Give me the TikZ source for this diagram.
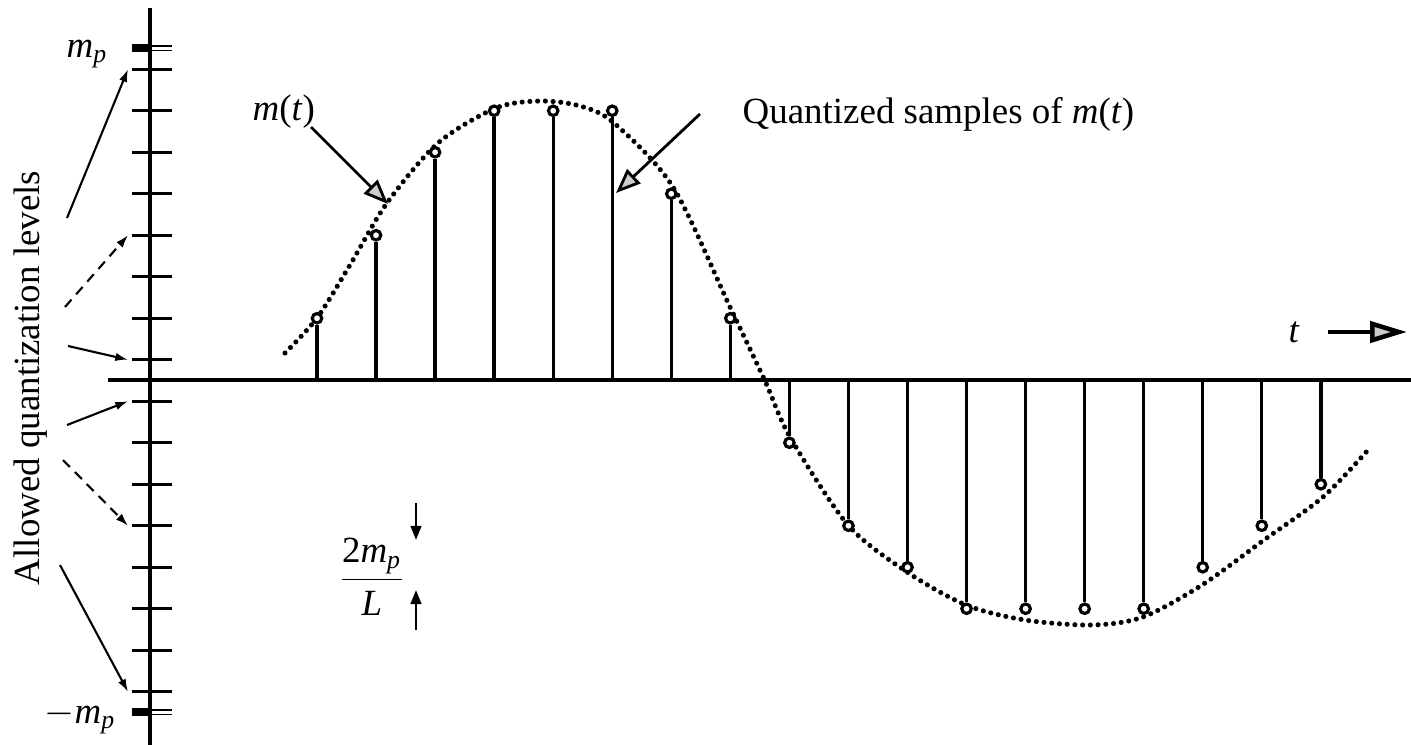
\documentclass[tikz,border=0pt]{standalone}
\usepackage{fontspec}
\setmainfont{Liberation Serif}
\usetikzlibrary{arrows.meta}
\newcommand{\mpv}{\textit{m}\textsubscript{\textit{p}}}
\newcommand{\mtv}{\textit{m}(\textit{t})}

\begin{document}
\begin{tikzpicture}[x=0.01cm,y=-0.01cm,
  font=\fontsize{10.5pt}{12pt}\selectfont,
  axisline/.style={line width=1.1pt},
  tickline/.style={line width=0.75pt},
  stemline/.style={line width=0.95pt},
  textlabel/.style={anchor=base west,inner sep=0pt},
  sampledot/.style={circle,draw,line width=0.9pt,fill=white,inner sep=0pt,minimum size=0.095cm},
  curvedots/.style={line width=1.45pt,line cap=round,dash pattern=on 0pt off 2.2pt},
  levelarrow/.style={-{Latex[length=3.6pt,width=2.4pt]},line width=0.6pt},
  hollowarrow/.style={-{Triangle[length=7pt,width=5.5pt,fill=black!20]},line width=0.8pt}]
\useasboundingbox (0,0) rectangle (1411,745);

% axes
\draw[axisline] (150,8) -- (150,745);
\draw[axisline] (108,380) -- (1411,380);

% quantization levels
\foreach \i in {1,...,16} {
  \coordinate (lv\i) at (150,{69.25+41.5*(\i-1)});
  \coordinate (tk\i) at (128,{69.25+41.5*(\i-1)});
  \draw[tickline] (lv\i) +(-18,0) -- +(22,0);
}
\draw[line width=2pt] (132,48) -- (150,48);
\draw[line width=0.5pt] (132,46) -- (172,46) (132,50.5) -- (172,50.5);
\draw[line width=2pt] (132,712) -- (150,712);
\draw[line width=0.5pt] (132,710) -- (172,710) (132,714.5) -- (172,714.5);
\node[textlabel] (mptop) at (66,57) {\mpv};
\node[textlabel] (mpbot) at (44,723) {$-$\mpv};

% m(t)
\draw[curvedots] plot[smooth] coordinates {(285,353) (317,318) (350,265)
  (387,203) (438,143) (496,108) (540,101) (580,106) (614,123) (673,187)
  (730,307) (765,381) (790,437) (848,525) (907,572) (966,605) (1025,620)
  (1092,625) (1143,617) (1202,585) (1264,540) (1323,497) (1368,450)};

% quantized samples
\foreach \i [count=\k from 0] in {7,5,3,2,2,2,4,7,10,12,13,14,14,14,14,13,12,11} {
  \coordinate (s\k) at ({317+59.05*\k},380);
  \node[sampledot] (q\k) at ({317+59.05*\k},{69.25+41.5*(\i-1)}) {};
  \draw[stemline] (s\k) -- (q\k);
}

% labels
\node[rotate=90,anchor=base,inner sep=0pt] (lvlab) at (40,378) {Allowed quantization levels};
\coordinate (a1) at (67,218);
\coordinate (a2) at (65,307);
\coordinate (a3) at (68,346);
\coordinate (a4) at (67,425);
\coordinate (a5) at (63,460);
\coordinate (a6) at (60,565);
\draw[levelarrow] (a1) -- (tk1);
\draw[levelarrow,dash pattern=on 2.8pt off 2pt] (a2) -- (tk5);
\draw[levelarrow] (a3) -- (tk8);
\draw[levelarrow] (a4) -- (tk9);
\draw[levelarrow,dash pattern=on 2.8pt off 2pt] (a5) -- (tk12);
\draw[levelarrow] (a6) -- (tk16);

\node[textlabel] (mlab) at (252,120) {\mtv};
\coordinate (mfrom) at (311,127);
\coordinate (mtip) at (388,204);
\draw[hollowarrow] (mfrom) -- (mtip);

\node[textlabel] (qlab) at (742,123) {Quantized samples of \mtv};
\coordinate (qfrom) at (700,114);
\coordinate (qtip) at (616,193);
\draw[hollowarrow] (qfrom) -- (qtip);

\node[textlabel] (tlab) at (1288,342) {\textit{t}};
\coordinate (tfrom) at (1328,332);
\coordinate (tto) at (1407,332);
\draw[-{Triangle[length=10.5pt,width=6pt,fill=black!20]},line width=1.3pt] (tfrom) -- (tto);

\node (lvstep) at (372,577) {$\displaystyle\frac{\mbox{2\textit{m}\textsubscript{\textit{p}}}}{\mbox{\textit{L}}}$};
\coordinate (up1) at (416,503);
\coordinate (up2) at (416,540);
\coordinate (dn1) at (416,630);
\coordinate (dn2) at (416,590);
\draw[-{Triangle[length=4pt,width=3pt]},line width=0.7pt] (up1) -- (up2);
\draw[-{Triangle[length=4pt,width=3pt]},line width=0.7pt] (dn1) -- (dn2);
\end{tikzpicture}
\end{document}
